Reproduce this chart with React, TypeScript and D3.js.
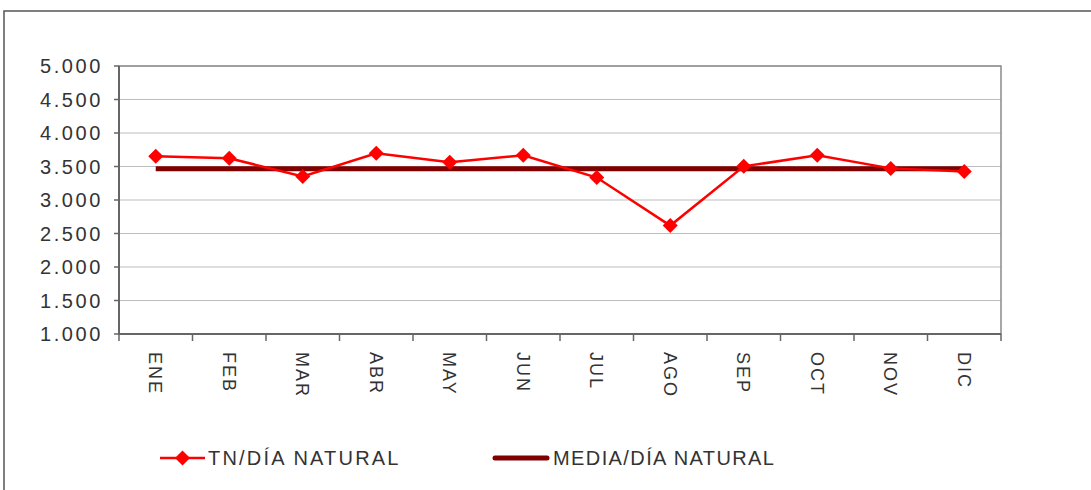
import React from "react";
import * as d3 from "d3";

const months = ["ENE", "FEB", "MAR", "ABR", "MAY", "JUN", "JUL", "AGO", "SEP", "OCT", "NOV", "DIC"];
const tnDia = [3652, 3622, 3352, 3697, 3562, 3667, 3335, 2618, 3502, 3667, 3472, 3427];
const mediaDia = [3465, 3465, 3465, 3465, 3465, 3465, 3465, 3465, 3465, 3465, 3465, 3465];
const yTicks = [1000, 1500, 2000, 2500, 3000, 3500, 4000, 4500, 5000];
const seriesNames = ["TN/DÍA NATURAL", "MEDIA/DÍA NATURAL"];

const W = 1091, H = 490;
const L = 119, R = 1001, T = 66, B = 334;
const FONT = "'Liberation Sans', Arial, sans-serif";

export default function App() {
  const x = d3.scaleBand<string>().domain(months).range([L, R]).paddingInner(0).paddingOuter(0);
  const y = d3.scaleLinear().domain([1000, 5000]).range([B, T]);
  const cx = (m: string) => (x(m) as number) + x.bandwidth() / 2;
  const fmtTick = (v: number) => {
    const s = String(v);
    return s.slice(0, s.length - 3) + "." + s.slice(s.length - 3);
  };
  const line = d3.line<number>().x((_, i) => cx(months[i])).y((d) => y(d));
  const diamond = (px: number, py: number, r: number) =>
    `M${px},${py - r}L${px + r},${py}L${px},${py + r}L${px - r},${py}Z`;
  const bounds = months.map((m) => x(m) as number).concat([R]);

  return (
    <svg width={W} height={H} style={{ position: "absolute", left: 0, top: 0, background: "#fff" }} fontFamily={FONT}>
      <rect x={4} y={11} width={W + 10} height={H + 10} fill="#fff" stroke="#555" strokeWidth={1.5} />
      {yTicks.map((t) => (
        <line key={"g" + t} x1={L} x2={R} y1={y(t)} y2={y(t)} stroke="#bdbdbd" strokeWidth={1} />
      ))}
      <rect x={L} y={T} width={R - L} height={B - T} fill="none" stroke="#8a8a8a" strokeWidth={1.5} />
      <line x1={L} x2={L} y1={T} y2={B} stroke="#666" strokeWidth={2} />
      <line x1={L} x2={R} y1={B} y2={B} stroke="#666" strokeWidth={2} />
      {yTicks.map((t) => (
        <g key={"y" + t}>
          <line x1={L - 5} x2={L} y1={y(t)} y2={y(t)} stroke="#666" strokeWidth={1.5} />
          <text x={103} y={y(t)} dy="0.36em" textAnchor="end" fontSize={20} letterSpacing={2.6} fill="#333">
            {fmtTick(t)}
          </text>
        </g>
      ))}
      {bounds.map((b, i) => (
        <line key={"xt" + i} x1={b} x2={b} y1={B} y2={B + 7} stroke="#666" strokeWidth={1.5} />
      ))}
      {months.map((m) => (
        <text
          key={"xl" + m}
          transform={`translate(${cx(m)},352) rotate(90)`}
          dy="0.36em"
          textAnchor="start"
          fontSize={18}
          letterSpacing={2}
          fill="#333"
        >
          {m}
        </text>
      ))}
      <path d={line(mediaDia) as string} fill="none" stroke="#800000" strokeWidth={5} />
      <path d={line(tnDia) as string} fill="none" stroke="#ff0000" strokeWidth={2.5} />
      {tnDia.map((v, i) => (
        <path key={"d" + i} d={diamond(cx(months[i]), y(v), 7.5)} fill="#ff0000" />
      ))}
      <line x1={160} x2={205} y1={458} y2={458} stroke="#ff0000" strokeWidth={2.5} />
      <path d={diamond(182.5, 458, 7.5)} fill="#ff0000" />
      <text x={208} y={458} dy="0.36em" fontSize={20} letterSpacing={2.2} fill="#333">{seriesNames[0]}</text>
      <line x1={495} x2={547} y1={458} y2={458} stroke="#800000" strokeWidth={5} strokeLinecap="round" />
      <text x={553} y={458} dy="0.36em" fontSize={20} letterSpacing={1.4} fill="#333">{seriesNames[1]}</text>
    </svg>
  );
}
